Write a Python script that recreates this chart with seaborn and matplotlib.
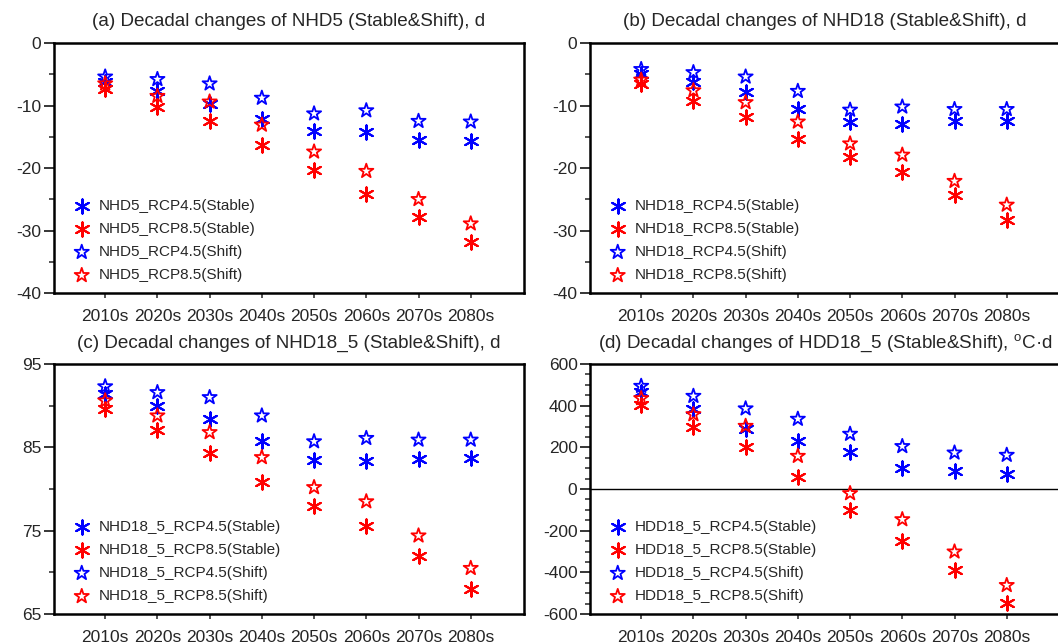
import matplotlib
matplotlib.use("Agg")
import matplotlib.pyplot as plt
import numpy as np
import pandas as pd
import seaborn as sns
from matplotlib.ticker import MultipleLocator

decades = ["2010s", "2020s", "2030s", "2040s", "2050s", "2060s", "2070s", "2080s"]

# (a) NHD5
nhd5_rcp45_stable = [-6.2, -7.7, -9.7, -12.2, -14.0, -14.2, -15.5, -15.7]
nhd5_rcp85_stable = [-7.3, -10.3, -12.5, -16.3, -20.3, -24.1, -27.8, -31.9]
nhd5_rcp45_shift = [-5.4, -5.8, -6.5, -8.8, -11.3, -10.8, -12.5, -12.6]
nhd5_rcp85_shift = [-6.5, -8.5, -9.4, -13.1, -17.4, -20.5, -25.0, -28.9]

# (b) NHD18
nhd18_rcp45_stable = [-4.9, -6.2, -7.8, -10.5, -12.7, -13.0, -12.5, -12.5]
nhd18_rcp85_stable = [-6.5, -9.2, -11.9, -15.4, -18.3, -20.7, -24.3, -28.3]
nhd18_rcp45_shift = [-4.2, -4.7, -5.4, -7.7, -10.7, -10.2, -10.6, -10.6]
nhd18_rcp85_shift = [-5.9, -7.6, -9.5, -12.6, -16.1, -17.9, -22.1, -25.9]

# (c) NHD18_5
nhd18_5_rcp45_stable = [91.4, 89.9, 88.4, 85.8, 83.5, 83.3, 83.6, 83.7]
nhd18_5_rcp85_stable = [89.6, 87.1, 84.3, 80.8, 77.9, 75.5, 71.9, 68.0]
nhd18_5_rcp45_shift = [92.3, 91.6, 91.0, 88.8, 85.7, 86.1, 85.9, 85.9]
nhd18_5_rcp85_shift = [90.6, 88.8, 86.8, 83.8, 80.2, 78.5, 74.4, 70.5]

# (d) HDD18_5
hdd18_5_rcp45_stable = [467, 382, 286, 230, 179, 99, 86, 74]
hdd18_5_rcp85_stable = [403, 299, 202, 56, -102, -248, -387, -546]
hdd18_5_rcp45_shift = [494, 446, 386, 336, 264, 205, 174, 163]
hdd18_5_rcp85_shift = [435, 358, 302, 158, -21, -146, -301, -462]

panels = [
    ("(a) Decadal changes of NHD5 (Stable&Shift), d", "NHD5",
     [nhd5_rcp45_stable, nhd5_rcp85_stable, nhd5_rcp45_shift, nhd5_rcp85_shift],
     (-40, 0), [-40, -30, -20, -10, 0], 5),
    ("(b) Decadal changes of NHD18 (Stable&Shift), d", "NHD18",
     [nhd18_rcp45_stable, nhd18_rcp85_stable, nhd18_rcp45_shift, nhd18_rcp85_shift],
     (-40, 0), [-40, -30, -20, -10, 0], 5),
    ("(c) Decadal changes of NHD18_5 (Stable&Shift), d", "NHD18_5",
     [nhd18_5_rcp45_stable, nhd18_5_rcp85_stable, nhd18_5_rcp45_shift, nhd18_5_rcp85_shift],
     (65, 95), [65, 75, 85, 95], 5),
    ("(d) Decadal changes of HDD18_5 (Stable&Shift), $\\mathregular{^oC}$\u00b7d", "HDD18_5",
     [hdd18_5_rcp45_stable, hdd18_5_rcp85_stable, hdd18_5_rcp45_shift, hdd18_5_rcp85_shift],
     (-600, 600), [-600, -400, -200, 0, 200, 400, 600], 50),
]

series_names = ["RCP4.5(Stable)", "RCP8.5(Stable)", "RCP4.5(Shift)", "RCP8.5(Shift)"]
series_colors = ["#0000ff", "#ff0000", "#0000ff", "#ff0000"]
series_kind = ["stable", "stable", "shift", "shift"]

sns.set_style("ticks")
plt.rcParams["font.family"] = ["Liberation Sans", "DejaVu Sans"]
plt.rcParams["mathtext.fontset"] = "custom"
plt.rcParams["mathtext.rm"] = "Liberation Sans"
plt.rcParams["axes.unicode_minus"] = False

W, H = 1058, 644
fig = plt.figure(figsize=(W / 100, H / 100), dpi=100)

# axes boxes in pixels: left, top
boxes = [(54, 43), (590, 43), (54, 364), (590, 364)]
aw, ah = 470, 250

asterisk = (6, 2, 0)

for (title, prefix, values, ylim, yticks, minor), (px, py) in zip(panels, boxes):
    ax = fig.add_axes([px / W, (H - py - ah) / H, aw / W, ah / H])
    for name, vals, col, kind in zip(series_names, values, series_colors, series_kind):
        df = pd.DataFrame({"decade": np.arange(len(decades)), "value": vals})
        if kind == "stable":
            sns.scatterplot(data=df, x="decade", y="value", ax=ax, marker=asterisk,
                            color=col, s=105, linewidth=1.5, label=f"{prefix}_{name}",
                            zorder=3)
        else:
            sns.scatterplot(data=df, x="decade", y="value", ax=ax, marker="*",
                            facecolor="none", edgecolor=col, s=115, linewidth=1.3,
                            label=f"{prefix}_{name}", zorder=3)
    if prefix == "HDD18_5":
        ax.axhline(0, color="black", linewidth=1.0, zorder=1)
    ax.set_xlim(-0.98, 8.02)
    ax.set_ylim(*ylim)
    ax.set_xticks(np.arange(len(decades)))
    ax.set_xticklabels(decades)
    ax.set_yticks(yticks)
    ax.yaxis.set_minor_locator(MultipleLocator(minor))
    ax.tick_params(axis="y", which="major", length=7, width=1.3, labelsize=12.5, pad=2)
    ax.tick_params(axis="y", which="minor", length=3.5, width=1.1)
    ax.tick_params(axis="x", which="major", length=3.5, width=1.1, labelsize=12.5, pad=8)
    ax.set_xlabel("")
    ax.set_ylabel("")
    for sp in ax.spines.values():
        sp.set_linewidth(1.8)
        sp.set_color("black")
    ax.set_title(title, fontsize=13.6, pad=12)
    ax.legend(loc="lower left", frameon=False, fontsize=11, handlelength=1.0,
              handletextpad=0.6, labelspacing=0.6, borderaxespad=0.3,
              bbox_to_anchor=(0.02, 0.0))

fig.savefig("out.png", dpi=100)
